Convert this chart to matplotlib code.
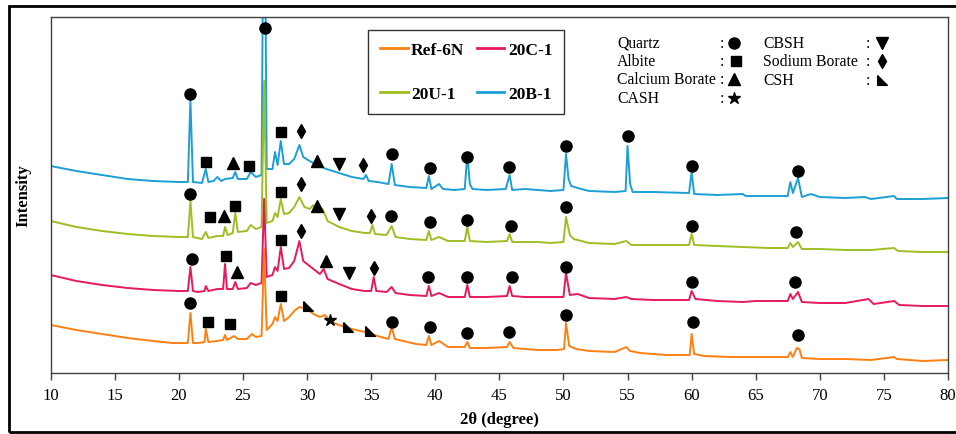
import matplotlib
matplotlib.use("Agg")
import matplotlib.pyplot as plt
from matplotlib.patches import Rectangle

plt.rcParams['font.family'] = ['Liberation Serif', 'DejaVu Serif']

# ---- diffraction patterns (stacked, arbitrary intensity units) ----
ref6n_x = [10, 12, 14, 16, 18, 19.5, 20.7, 20.9, 21.1, 21.5, 22.0, 22.1, 22.3, 23.0, 23.45, 23.6, 23.75, 24.3, 24.6,
           25.3, 25.7, 26.0, 26.45, 26.65, 26.85, 27.3, 27.5, 27.7, 27.95, 28.2, 28.6, 29.0, 29.4, 30.0, 30.5, 31.0,
           31.4, 31.7, 32.5, 33.5, 34.5, 35.5, 36.35, 36.6, 36.85, 37.5, 38.5, 39.3, 39.5, 39.7, 40.3, 41, 42.3, 42.5,
           42.7, 44, 45.6, 45.8, 46.1, 47, 48, 49.5, 50.05, 50.2, 50.45, 51, 52, 54, 54.9, 55.2, 56, 58, 59.85, 60.0,
           60.2, 61, 63, 65, 67.5, 67.7, 67.9, 68.2, 68.4, 68.6, 70, 72, 74, 75.8, 76, 78, 80]
ref6n_y = [48, 43, 39, 35, 32, 30, 30, 60, 30, 30, 31, 44, 31, 32, 33, 38, 33, 37, 34,
           34, 39, 36, 37, 124, 43, 49, 56, 52, 69, 52, 56, 62, 66, 64, 59, 56,
           58, 52, 48, 44, 41, 37, 34, 46, 34, 32, 29, 28, 37, 28, 32, 26, 26, 31,
           25, 25, 26, 31, 25, 24, 23, 23, 24, 50, 27, 24, 22, 21, 26, 22, 20, 18, 18, 39,
           19, 17, 16, 16, 16, 21, 16, 25, 24, 15, 14, 14, 13, 16, 14, 12, 13]

c20_x = [10, 12, 14, 16, 18, 20, 20.7, 20.9, 21.1, 21.5, 22.0, 22.1, 22.3, 23.0, 23.45, 23.6, 23.75, 24.2, 24.4, 24.6,
         25.3, 25.6, 26.0, 26.45, 26.65, 26.85, 27.3, 27.5, 27.7, 27.95, 28.2, 28.6, 29.0, 29.4, 29.7, 30.0, 30.5, 31.0,
         31.3, 31.6, 32.5, 33.5, 34.5, 35.0, 35.2, 35.4, 36.2, 36.6, 36.9, 38, 39.3, 39.5, 39.7, 40.3, 41, 42.3, 42.5,
         42.7, 44, 45.6, 45.8, 46.0, 47, 48, 49, 50.0, 50.2, 50.5, 51.1, 52, 54, 54.9, 55.3, 57, 59.8, 60.0, 60.3, 62,
         64, 65, 67.5, 67.7, 67.9, 68.3, 68.6, 70, 72, 73.8, 74.2, 75.8, 76.2, 78, 80]
c20_y = [98, 92, 88, 85, 83, 82, 82, 106, 82, 81, 82, 87, 82, 84, 84, 109, 84, 84, 91, 84,
         85, 90, 88, 90, 174, 96, 98, 106, 102, 126, 104, 105, 112, 132, 112, 109, 104, 99,
         104, 94, 89, 84, 82, 82, 96, 82, 81, 86, 80, 78, 77, 87, 77, 80, 76, 76, 88,
         76, 76, 77, 87, 77, 76, 76, 76, 76, 100, 78, 79, 75, 74, 76, 74, 73, 73, 82, 74, 72,
         71, 72, 72, 79, 74, 81, 71, 70, 70, 74, 69, 72, 68, 67, 67]

u20_x = [10, 12, 14, 16, 18, 20, 20.7, 20.9, 21.1, 21.8, 22.1, 22.3, 23.0, 23.45, 23.6, 23.8, 24.2, 24.4, 24.6, 25.3,
         25.6, 26.0, 26.45, 26.65, 26.85, 27.3, 27.5, 27.7, 27.95, 28.2, 28.6, 29.0, 29.4, 29.8, 30.2, 30.5, 30.8, 31.2,
         31.6, 32.5, 33.5, 34.5, 34.9, 35.1, 35.3, 36.2, 36.6, 36.9, 38, 39.3, 39.5, 39.7, 40.3, 41, 42.3, 42.5, 42.7,
         44, 45.6, 45.8, 46.0, 47, 48, 49, 50.0, 50.2, 50.5, 50.8, 52, 54, 54.9, 55.3, 57, 59.8, 60.0, 60.2, 62, 64,
         66, 67.5, 67.7, 67.9, 68.3, 68.6, 70, 72, 74, 75.8, 76.1, 78, 80]
u20_y = [152, 146, 142, 139, 137, 136, 136, 172, 136, 134, 141, 135, 137, 137, 146, 138, 140, 160, 141, 142,
         148, 144, 146, 292, 150, 152, 160, 156, 174, 159, 160, 166, 176, 166, 164, 168, 162, 164,
         152, 146, 142, 140, 140, 148, 139, 138, 147, 136, 134, 133, 142, 133, 136, 132, 132, 146, 132,
         131, 132, 139, 131, 131, 131, 130, 131, 156, 138, 134, 130, 129, 132, 128, 128, 128, 139, 128, 127, 126,
         125, 125, 130, 126, 131, 124, 124, 123, 123, 125, 122, 121, 121]

b20_x = [10, 12, 14, 16, 18, 20, 20.7, 20.9, 21.1, 21.8, 22.1, 22.3, 22.7, 23.0, 23.3, 23.6, 24.2, 24.4, 24.6, 25.3,
         25.6, 26.0, 26.45, 26.65, 26.85, 27.3, 27.5, 27.7, 27.95, 28.2, 28.6, 29.0, 29.4, 29.7, 30.2, 30.8, 31.5, 32.5,
         33.5, 34.4, 34.6, 34.8, 35.5, 36.35, 36.6, 36.85, 38, 39.3, 39.5, 39.7, 40.3, 40.6, 41.5, 42.3, 42.5, 42.7,
         42.9, 44, 45.5, 45.8, 46.0, 47, 48, 49, 50.0, 50.2, 50.4, 50.6, 51.1, 52, 54, 54.85, 55.0, 55.2, 55.4, 57,
         59.8, 60.0, 60.2, 62, 64, 64.2, 66, 67.5, 67.7, 67.9, 68.3, 68.6, 69.3, 70, 72, 73.5, 74, 75.8, 76, 78, 80]
b20_y = [207, 202, 198, 194, 192, 191, 191, 273, 191, 190, 204, 191, 192, 196, 192, 194, 195, 201, 194, 194,
         201, 196, 198, 574, 204, 204, 221, 208, 232, 209, 209, 214, 228, 216, 212, 208, 204, 200,
         196, 194, 198, 192, 191, 189, 209, 188, 186, 185, 197, 184, 189, 184, 183, 184, 219, 189,
         184, 183, 184, 198, 183, 184, 183, 182, 183, 219, 194, 187, 185, 182, 181, 182, 227, 189, 181, 181,
         180, 201, 179, 178, 179, 177, 177, 177, 191, 180, 195, 176, 179, 176, 175, 176, 174, 177, 174, 174, 175]

# ---- phase identification marks: phase -> [(2theta, y), ...] ----
ref6n_marks = {
    'Quartz': [(20.9, 70), (36.6, 51), (39.6, 46), (42.5, 40), (45.75, 41), (50.2, 58), (60.1, 51), (68.3, 38)],
    'Albite': [(22.3, 51), (24.0, 49), (28.0, 77)],
    'CSH': [(30.1, 67), (33.2, 46), (34.9, 42)],
    'CASH': [(31.8, 53)],
}
c20_marks = {
    'Quartz': [(21.0, 114), (39.45, 96), (42.5, 96), (46.0, 96), (50.2, 106), (60.0, 91), (68.1, 91)],
    'Albite': [(23.7, 117), (28.0, 133)],
    'Calcium Borate': [(24.5, 101), (31.45, 112)],
    'Sodium Borate': [(29.5, 142), (35.2, 105)],
    'CBSH': [(33.3, 100)],
}
u20_marks = {
    'Quartz': [(20.9, 179), (36.55, 157), (39.6, 151), (42.5, 153), (45.9, 147), (50.2, 166), (60.0, 147), (68.15, 141)],
    'Albite': [(22.4, 156), (24.4, 167), (28.0, 181)],
    'Calcium Borate': [(23.5, 157), (30.8, 167)],
    'Sodium Borate': [(29.5, 189), (35.0, 157)],
    'CBSH': [(32.5, 159)],
}
b20_marks = {
    'Quartz': [(20.85, 279), (26.7, 345), (36.6, 219), (39.6, 205), (42.5, 216), (45.75, 206), (50.2, 227),
               (55.0, 237), (60.0, 207), (68.3, 202)],
    'Albite': [(22.1, 211), (25.5, 207), (28.0, 241)],
    'Calcium Borate': [(24.2, 210), (30.8, 212)],
    'Sodium Borate': [(29.5, 242), (34.4, 208)],
    'CBSH': [(32.5, 209)],
}

# drawn back to front: 20B-1 first, Ref-6N on top
series = [
    ('20B-1', b20_x, b20_y, '#1C9FD6', b20_marks),
    ('20U-1', u20_x, u20_y, '#9DBF21', u20_marks),
    ('20C-1', c20_x, c20_y, '#E8185C', c20_marks),
    ('Ref-6N', ref6n_x, ref6n_y, '#FF8012', ref6n_marks),
]

csh_marker = [(-1, 1), (-1, -1), (1, -1), (-1, 1)]
phase_style = {
    'Quartz': ('o', 8),
    'Albite': ('s', 7),
    'Calcium Borate': ('^', 8),
    'CASH': ('*', 9),
    'CBSH': ('v', 8),
    'Sodium Borate': ('d', 6.8),
    'CSH': (csh_marker, 7),
}

W, H = 956, 435
fig = plt.figure(figsize=(W / 100, H / 100), dpi=100)
ax = fig.add_axes([50.7 / W, 1 - 374 / H, 897.3 / W, 356.5 / H])


def px(x, y):
    return x / W, 1 - y / H


lines = {}
for name, xs, ys, color, marks in series:
    lines[name], = ax.plot(xs, ys, color=color, lw=1.4, label=name)
    for phase, pts in marks.items():
        m, ms = phase_style[phase]
        ax.plot([p[0] for p in pts], [p[1] for p in pts], ls='none', marker=m, ms=ms,
                color='black', mec='black', zorder=6, clip_on=False)

ax.set_xlim(10, 80)
ax.set_ylim(0, 356.5)
ax.set_xticks(range(10, 81, 5))
ax.set_yticks([])
ax.tick_params(axis='x', direction='out', length=5, width=1, labelsize=12, pad=5, color='#404040')
for s in ax.spines.values():
    s.set_color('#404040')
    s.set_linewidth(1)
ax.set_xlabel('2θ (degree)', fontsize=12, fontweight='bold', labelpad=6)
ax.set_ylabel('Intensity', fontsize=12, fontweight='bold', labelpad=14)

order = ['Ref-6N', '20U-1', '20C-1', '20B-1']
leg = ax.legend([lines[k] for k in order], order, ncol=2, loc='upper left',
                bbox_to_anchor=px(368, 31), bbox_transform=fig.transFigure, borderaxespad=0,
                prop={'weight': 'bold', 'size': 12.5}, frameon=True, fancybox=False,
                edgecolor='black', borderpad=0.68, labelspacing=1.6, handlelength=1.6,
                handletextpad=0.2, columnspacing=0.7)
leg.get_frame().set_linewidth(1)
for h in leg.get_lines():
    h.set_linewidth(2)

# phase key
key = [
    ('Quartz', 617, 722, 734, 44),
    ('Albite', 617, 722, 736, 62),
    ('Calcium Borate', 617, 722, 734, 80),
    ('CASH', 617, 722, 734, 99),
    ('CBSH', 763, 868, 882, 44),
    ('Sodium Borate', 763, 868, 882, 62),
    ('CSH', 763, 868, 882, 81),
]
for phase, tx, cx, mx, y in key:
    fig.text(*px(tx, y), phase, fontsize=11.3, ha='left', va='center')
    fig.text(*px(cx, y), ':', fontsize=11.3, ha='center', va='center')
    m, ms = phase_style[phase]
    ax.plot(*px(mx, y), marker=m, ms=ms, color='black', transform=fig.transFigure, clip_on=False)

fig.add_artist(Rectangle(px(9, 433), 1.1, 426 / H, transform=fig.transFigure,
                         fill=False, lw=2, ec='black'))

fig.savefig('out.png', dpi=100)
